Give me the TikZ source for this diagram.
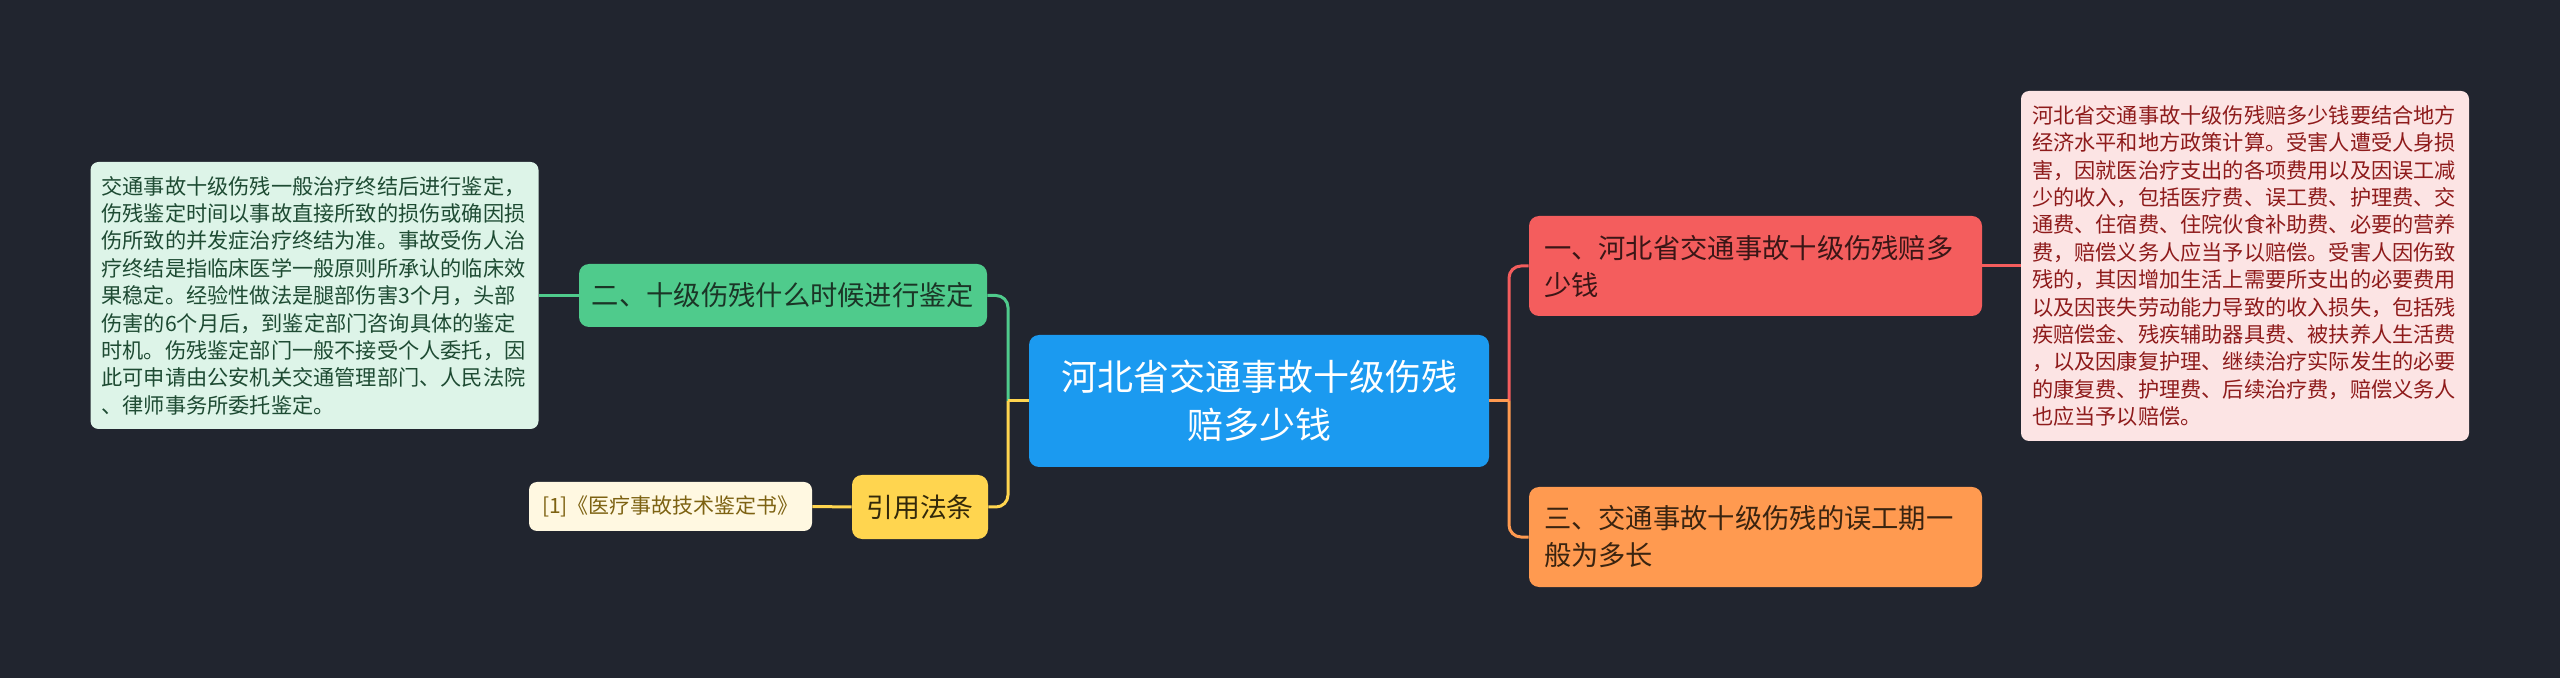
\documentclass[tikz,border=0pt]{standalone}
\usepackage{fontspec}
\setmainfont{Noto Sans CJK SC}
\definecolor{bgc}{HTML}{21252F}
\definecolor{bluec}{HTML}{1B9AF0}
\definecolor{redc}{HTML}{F45D5D}
\definecolor{orangec}{HTML}{FF9A50}
\definecolor{greenc}{HTML}{4FCB8C}
\definecolor{yellowc}{HTML}{FFD54F}
\definecolor{pinkc}{HTML}{FCE4E4}
\definecolor{pinktext}{HTML}{8E1B1B}
\definecolor{mintc}{HTML}{DDF4E8}
\definecolor{minttext}{HTML}{1E4B33}
\definecolor{creamc}{HTML}{FFF8E1}
\definecolor{creamtext}{HTML}{7D6212}
\definecolor{redtext}{HTML}{3A1616}
\definecolor{greentext}{HTML}{1B3526}
\definecolor{orangetext}{HTML}{3A2410}
\definecolor{yellowtext}{HTML}{33290A}
\tikzset{
  basebox/.style={rounded corners=5pt, inner ysep=0pt},
  centralbox/.style={basebox, fill=bluec, text=white, minimum width=230pt, minimum height=66pt,
     inner xsep=10pt, text width=210pt, align=center, font=\fontsize{18}{24}\selectfont},
  branchbox/.style={basebox, minimum width=226.5pt, minimum height=50pt, inner xsep=7.5pt,
     text width=211.5pt, align=left, font=\fontsize{13.65}{18.5}\selectfont},
  notebox/.style={basebox, rounded corners=4pt, minimum height=175pt, inner xsep=5.5pt,
     text width=213pt, align=left, font=\fontsize{10.6}{13.7}\selectfont},
  conn/.style={line width=1.5pt, rounded corners=6pt},
  stub/.style={line width=1.5pt},
}
\begin{document}
\begin{tikzpicture}[x=0.5pt,y=-0.5pt]
\fill[bgc] (0,0) rectangle (2560,678);
\useasboundingbox (0,0) rectangle (2560,678);

% nodes
\node[centralbox] (c) at (1259,401) {河北省交通事故十级伤残\\赔多少钱};
\node[branchbox, fill=redc, text=redtext] (r) at (1755.5,266) {一、河北省交通事故十级伤残赔多\\少钱};
\node[branchbox, fill=orangec, text=orangetext] (o) at (1755.5,537) {三、交通事故十级伤残的误工期一\\般为多长};
\node[notebox, fill=pinkc, text=pinktext, minimum width=223pt, minimum height=175pt] (pn) at (2245,266) {河北省交通事故十级伤残赔多少钱要结合地方\\经济水平和地方政策计算。受害人遭受人身损\\害，因就医治疗支出的各项费用以及因误工减\\少的收入，包括医疗费、误工费、护理费、交\\通费、住宿费、住院伙食补助费、必要的营养\\费，赔偿义务人应当予以赔偿。受害人因伤致\\残的，其因增加生活上需要所支出的必要费用\\以及因丧失劳动能力导致的收入损失，包括残\\疾赔偿金、残疾辅助器具费、被扶养人生活费\\，以及因康复护理、继续治疗实际发生的必要\\的康复费、护理费、后续治疗费，赔偿义务人\\也应当予以赔偿。};
\node[basebox, fill=greenc, text=greentext, minimum width=204pt, minimum height=31.5pt, inner xsep=6pt,
      text width=192pt, align=center, font=\fontsize{13.65}{18.5}\selectfont] (g) at (783,295.5) {二、十级伤残什么时候进行鉴定};
\node[notebox, fill=mintc, text=minttext, minimum width=223.5pt, minimum height=133.5pt] (ln) at (314.5,295.5) {交通事故十级伤残一般治疗终结后进行鉴定，\\伤残鉴定时间以事故直接所致的损伤或确因损\\伤所致的并发症治疗终结为准。事故受伤人治\\疗终结是指临床医学一般原则所承认的临床效\\果稳定。经验性做法是腿部伤害3个月，头部\\伤害的6个月后，到鉴定部门咨询具体的鉴定\\时机。伤残鉴定部门一般不接受个人委托，因\\此可申请由公安机关交通管理部门、人民法院\\、律师事务所委托鉴定。};
\node[basebox, fill=yellowc, text=yellowtext, minimum width=68pt, minimum height=32pt, inner xsep=4pt,
      align=center, font=\fontsize{13.4}{18}\selectfont] (y) at (920,507) {引用法条};
\node[basebox, rounded corners=4pt, fill=creamc, text=creamtext, minimum width=141.5pt, minimum height=24.5pt,
      inner xsep=4pt, align=center, font=\fontsize{10.5}{13}\selectfont] (cr) at (670.5,506.5) {[1]《医疗事故技术鉴定书》};

% junctions
\coordinate (rj) at (1509,401);
\coordinate (lj) at (1008,401);

% connectors right
\draw[conn, redc] (rj) |- (r.west);
\draw[conn, orangec] (rj) |- (o.west);
\draw[stub, orangec] (c.east) -- (rj);
\draw[conn, redc] (r.east) -- (pn.west);
% connectors left
\draw[conn, greenc] (lj) |- (g.east);
\draw[conn, yellowc] (lj) |- (y.east);
\draw[stub, yellowc] (c.west) -- (lj);
\draw[conn, greenc] (g.west) -- (ln.east);
\draw[conn, yellowc] (y.west) -- (cr.east);
\end{tikzpicture}
\end{document}
